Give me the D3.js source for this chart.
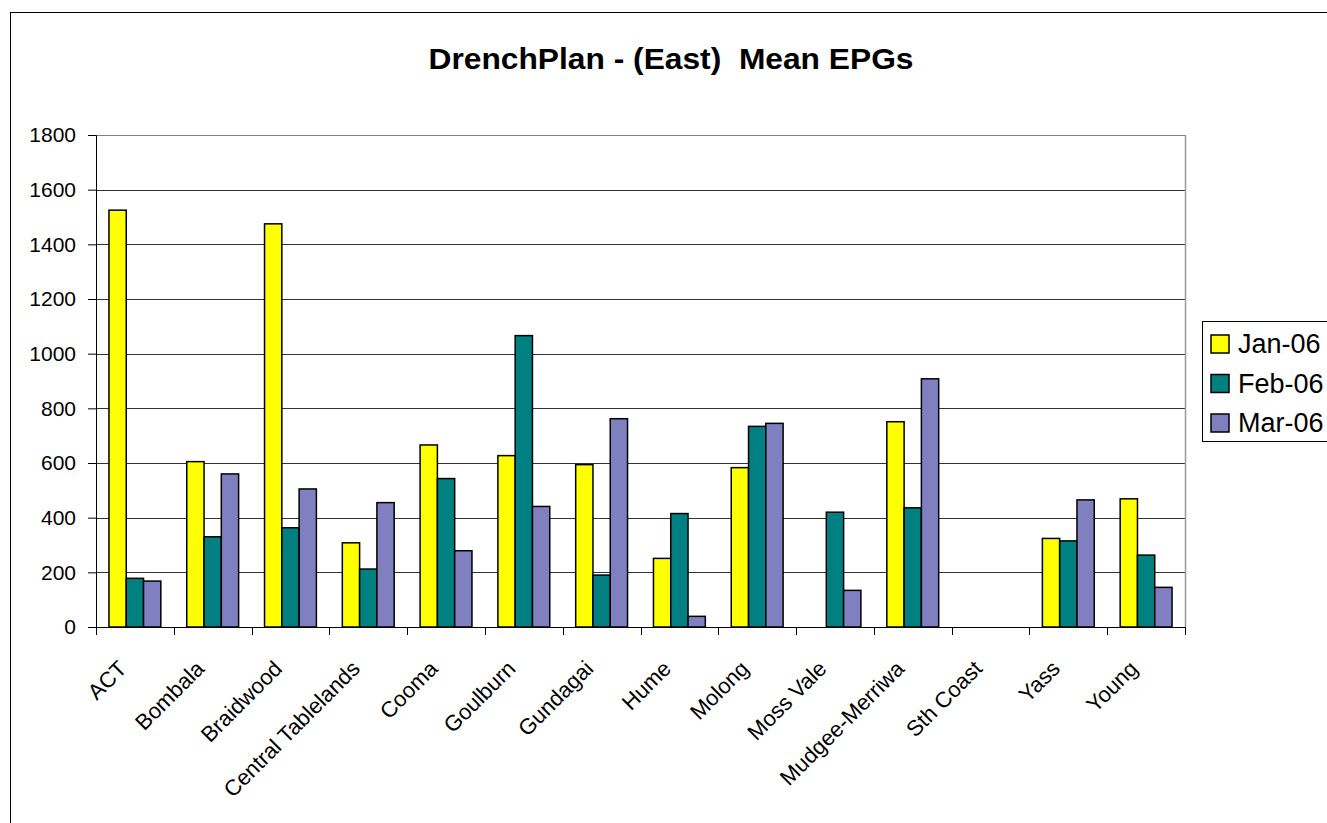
<!DOCTYPE html>
<html>
<head>
<meta charset="utf-8">
<script src="https://cdn.jsdelivr.net/npm/d3@7"></script>
<style>
  body { margin: 0; background: #fff; }
  svg { display: block; font-family: Arial, "Liberation Sans", sans-serif; }
</style>
</head>
<body>
<div id="chart"></div>
<script>
'use strict'

// data
const regions = ['ACT', 'Bombala', 'Braidwood', 'Central Tablelands', 'Cooma', 'Goulburn', 'Gundagai',
    'Hume', 'Molong', 'Moss Vale', 'Mudgee-Merriwa', 'Sth Coast', 'Yass', 'Young']
const months = ['Jan-06', 'Feb-06', 'Mar-06']
const jan06 = [1525, 605, 1475, 308, 666, 627, 594, 251, 583, 0, 751, 0, 324, 469]
const feb06 = [178, 330, 363, 212, 543, 1066, 190, 415, 734, 420, 436, 0, 315, 263]
const mar06 = [168, 560, 505, 455, 279, 441, 762, 39, 745, 134, 908, 0, 465, 145]
const yTicks = [0, 200, 400, 600, 800, 1000, 1200, 1400, 1600, 1800]
const colors = ['#ffff00', '#008080', '#8080c0']

const series = [jan06, feb06, mar06]

////////////////////////////////////
//////////// svg setup /////////////
////////////////////////////////////

const svgWidth = 1327
const svgHeight = 823
const plot = { left: 96, right: 1185, top: 135, bottom: 627 }

const svg = d3.select('#chart')
    .append('svg')
    .attr('width', svgWidth)
    .attr('height', svgHeight)

// outer chart frame (runs off the right/bottom edge like the original)
svg.append('rect')
    .attr('x', 10.5).attr('y', 12.5)
    .attr('width', 1400).attr('height', 900)
    .attr('fill', 'none').attr('stroke', '#000').attr('stroke-width', 1)

svg.append('text')
    .attr('x', 671).attr('y', 69)
    .attr('text-anchor', 'middle')
    .attr('font-size', 30).attr('font-weight', 'bold')
    .attr('textLength', 485).attr('lengthAdjust', 'spacingAndGlyphs')
    .style('white-space', 'pre')
    .text('DrenchPlan - (East)  Mean EPGs')

////////////////////////////////////
////////////// scales //////////////
////////////////////////////////////

const x = d3.scaleBand()
    .domain(regions)
    .range([plot.left, plot.right])
    .paddingInner(0)
    .paddingOuter(0)

// excel gap width 150%: three bars + 1.5 bar widths of gap per category
const xSub = d3.scaleBand()
    .domain(months)
    .range([0, x.bandwidth()])
    .paddingOuter(0.75)
    .paddingInner(0)

const y = d3.scaleLinear()
    .domain([0, 1800])
    .range([plot.bottom, plot.top])

////////////////////////////////////
//////////// gridlines /////////////
////////////////////////////////////

svg.append('g')
    .selectAll('line')
    .data(yTicks.filter(d => d > 0))
    .join('line')
    .attr('x1', plot.left).attr('x2', plot.right)
    .attr('y1', d => Math.round(y(d)) + 0.5).attr('y2', d => Math.round(y(d)) + 0.5)
    .attr('stroke', d => d === 1800 ? '#808080' : '#333')
    .attr('stroke-width', 1)

// right edge of plot area
svg.append('line')
    .attr('x1', plot.right + 0.5).attr('x2', plot.right + 0.5)
    .attr('y1', plot.top).attr('y2', plot.bottom)
    .attr('stroke', '#999').attr('stroke-width', 1.5)

////////////////////////////////////
////////////// bars ////////////////
////////////////////////////////////

const groups = svg.append('g')
    .selectAll('g')
    .data(regions)
    .join('g')
    .attr('transform', d => `translate(${x(d)},0)`)

groups.selectAll('rect')
    .data((r, i) => months.map((m, k) => ({ month: m, value: series[k][i], k: k })))
    .join('rect')
    .filter(d => d.value > 0)
    .attr('x', d => xSub(d.month))
    .attr('width', xSub.bandwidth())
    .attr('y', d => y(d.value))
    .attr('height', d => y(0) - y(d.value))
    .attr('fill', d => colors[d.k])
    .attr('stroke', '#000')
    .attr('stroke-width', 1.5)

////////////////////////////////////
////////////// axes ////////////////
////////////////////////////////////

const yAxis = svg.append('g')
    .attr('transform', `translate(${plot.left},0)`)
    .call(d3.axisLeft(y).tickValues(yTicks).tickSize(8).tickPadding(12).tickFormat(d3.format('d')))

yAxis.selectAll('text').attr('font-size', 21).attr('fill', '#000').attr('font-family', 'Arial, "Liberation Sans", sans-serif')
yAxis.selectAll('line, path').attr('stroke', '#000')

// category boundaries as tick marks
const xAxis = svg.append('g')
svg.append('line')
    .attr('x1', plot.left).attr('x2', plot.right)
    .attr('y1', plot.bottom + 0.5).attr('y2', plot.bottom + 0.5)
    .attr('stroke', '#000')

xAxis.selectAll('line')
    .data(regions.map(r => x(r)).concat([plot.right]))
    .join('line')
    .attr('x1', d => Math.round(d) + 0.5).attr('x2', d => Math.round(d) + 0.5)
    .attr('y1', plot.bottom).attr('y2', plot.bottom + 8)
    .attr('stroke', '#000')

xAxis.selectAll('text')
    .data(regions)
    .join('text')
    .attr('transform', d => `translate(${x(d) + x.bandwidth() / 2 - 7},${plot.bottom + 43}) rotate(-45)`)
    .attr('text-anchor', 'end')
    .attr('font-size', 22)
    .text(d => d)

////////////////////////////////////
///////////// legend ///////////////
////////////////////////////////////

const legend = svg.append('g')
    .attr('transform', 'translate(1202,321)')

legend.append('rect')
    .attr('x', 0.5).attr('y', 0.5)
    .attr('width', 200).attr('height', 120)
    .attr('fill', '#fff').attr('stroke', '#000').attr('stroke-width', 1)

const item = legend.selectAll('.item')
    .data(months)
    .join('g')
    .attr('class', 'item')
    .attr('transform', (d, i) => `translate(9,${14 + i * 39.5})`)

item.append('rect')
    .attr('width', 18).attr('height', 18)
    .attr('fill', (d, i) => colors[i])
    .attr('stroke', '#000').attr('stroke-width', 1.5)

item.append('text')
    .attr('x', 27).attr('y', 18)
    .attr('font-size', 27)
    .text(d => d)
</script>
</body>
</html>
